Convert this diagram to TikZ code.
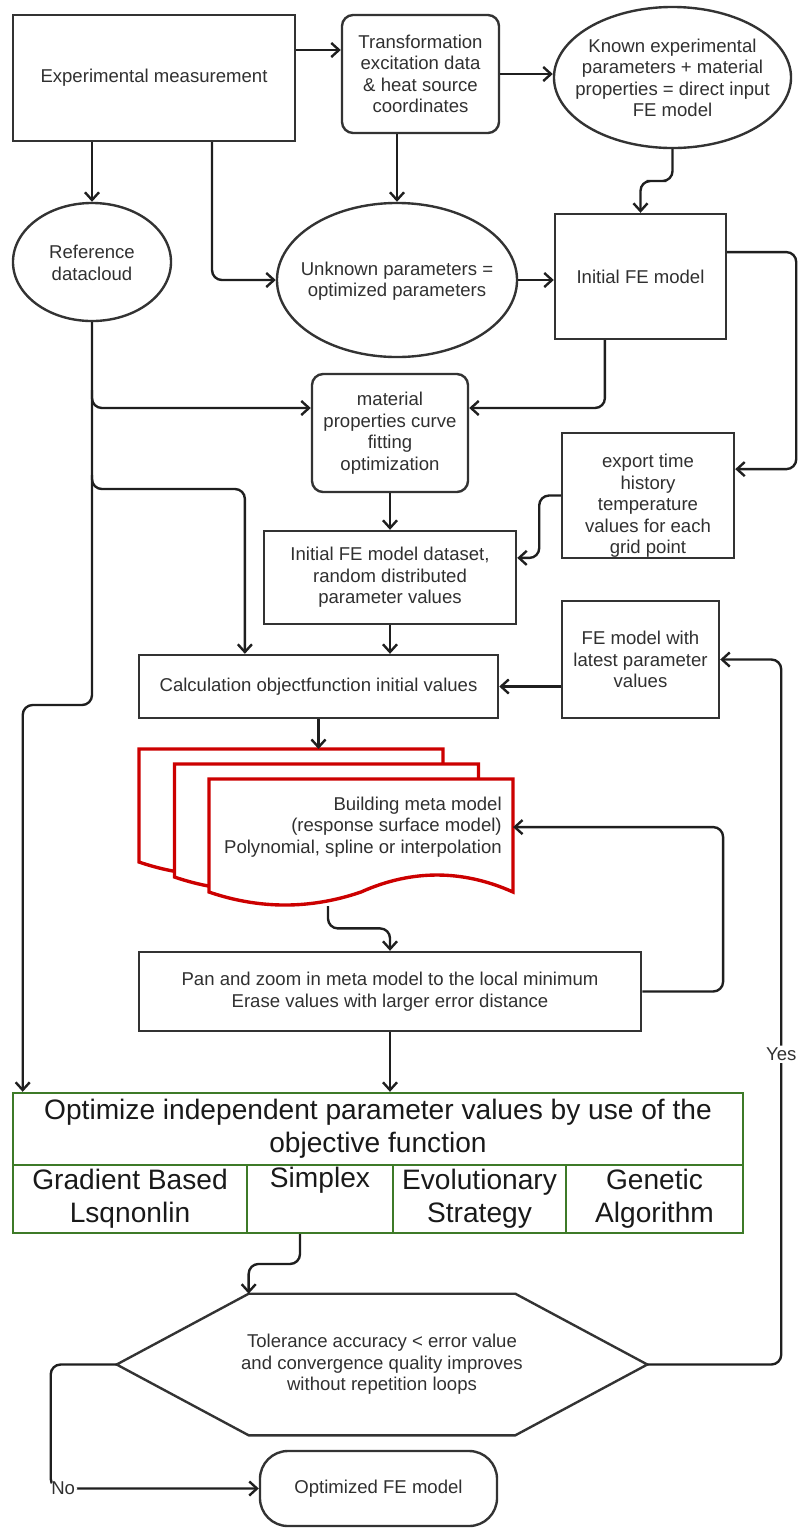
\documentclass[tikz,border=0pt]{standalone}
\usepackage{fontspec}
\setmainfont{Liberation Sans}
\usepackage{tikz}
\usetikzlibrary{arrows.meta, positioning, shapes.geometric, calc}

\definecolor{boxgray}{HTML}{333333}
\definecolor{txtgray}{HTML}{303030}
\definecolor{metared}{HTML}{CC0000}
\definecolor{optgreen}{HTML}{3D7A28}

\begin{document}
\begin{tikzpicture}[x=0.025cm, y=-0.025cm,
    every node/.style={font=\fontsize{13.2}{15.3}\selectfont, text=txtgray, align=center},
    box/.style={draw=boxgray, line width=1.7pt, fill=white, inner sep=2pt},
    rbox/.style={box, rounded corners=0.28cm},
    oval/.style={draw=boxgray, line width=1.7pt, ellipse, inner sep=0pt},
    pagebox/.style={inner sep=0pt, outer sep=0pt, minimum width=7.6cm, minimum height=2.825cm},
    metadoc/.style={draw=metared, line width=2.4pt, fill=white},
    optcell/.style={draw=optgreen, line width=1.7pt, inner sep=0pt, font=\fontsize{20}{23.4}\selectfont, text=black!90},
    arr/.style={-{Straight Barb[length=5.5pt,width=10pt]}, line width=1.7pt, draw=black!88, rounded corners=7pt},
    flag/.style={fill=white, inner sep=1.5pt}
]
\useasboundingbox (0,0) rectangle (799,1528);

% Measurement and inputs
\node[box, minimum width=7.05cm, minimum height=3.15cm] (exp) at (154,78) {Experimental measurement};
\node[rbox, minimum width=3.925cm, minimum height=2.95cm] (trans) at (420.5,74) {Transformation\\excitation data\\\& heat source\\coordinates};
\node[oval, minimum width=5.925cm, minimum height=3.525cm] (known) at (672.5,77.5) {};
\node (knownlbl) at (672.5,78) {Known experimental\\parameters + material\\properties = direct input\\FE model};
\node[oval, minimum width=3.95cm, minimum height=2.95cm] (ref) at (92,262) {};
\node (reflbl) at (92,263) {Reference\\datacloud};
\node[oval, minimum width=6cm, minimum height=3.85cm] (unk) at (397,280) {};
\node (unklbl) at (397,281) {Unknown parameters =\\optimized parameters};
\node[box, minimum width=4.275cm, minimum height=3.125cm] (init) at (640.5,276.5) {Initial FE model};

% FE model preparation
\node[rbox, minimum width=3.9cm, minimum height=2.95cm] (mat) at (390,433) {material\\properties curve\\fitting\\optimization};
\node[box, minimum width=4.3cm, minimum height=3.125cm] (export) at (648,495.5) {};
\node (exportlbl) at (648,506) {export time\\history\\temperature\\values for each\\grid point};
\node[box, minimum width=6.3cm, minimum height=2.325cm] (dataset) at (390,577.5) {Initial FE model dataset,\\random distributed\\parameter values};
\node[box, minimum width=8.975cm, minimum height=1.575cm] (calc) at (318.5,686.5) {Calculation objectfunction initial values};
\node[box, minimum width=3.925cm, minimum height=2.925cm] (latest) at (640.5,659.5) {FE model with\\latest parameter\\values};

% Meta model stack
\foreach \pg/\cx/\cy in {pageA/291/805.5, pageB/326.5/820.5, pageC/361/835.5} {
  \node[pagebox] (\pg) at (\cx,\cy) {};
  \draw[metadoc] (\pg.north west) -- (\pg.north east) -- (\pg.south east)
    .. controls +(-50.67,-22.67) and +(50.67,-22.67) .. (\pg.south)
    .. controls +(-50.67,17.33) and +(50.67,17.33) .. (\pg.south west) -- cycle;
}
\node[anchor=east, align=right, inner sep=0pt] (metatxt) at (502,827) {Building meta model\\(response surface model)\\Polynomial, spline or interpolation};
\node[box, minimum width=12.55cm, minimum height=1.975cm] (pan) at (390,991.5) {Pan and zoom in meta model to the local minimum\\Erase values with larger error distance};

% Optimizer table
\node[optcell, minimum width=18.25cm, minimum height=1.8cm] (opt) at (378,1129) {Optimize independent parameter values by use of the\\objective function};
\node[optcell, minimum width=5.85cm, minimum height=1.7cm] (grad) at (130,1199) {Gradient Based\\Lsqnonlin};
\node[optcell, minimum width=3.65cm, minimum height=1.7cm] (simplex) at (320,1199) {Simplex\\\strut};
\node[optcell, minimum width=4.325cm, minimum height=1.7cm] (evol) at (479.5,1199) {Evolutionary\\Strategy};
\node[optcell, minimum width=4.425cm, minimum height=1.7cm] (genetic) at (654.5,1199) {Genetic\\Algorithm};

% Decision and end
\node[inner sep=0pt, minimum width=13.25cm, minimum height=3.525cm] (decision) at (382,1364.5) {Tolerance accuracy < error value\\and convergence quality improves\\without repetition loops};
\coordinate (decin) at ([xshift=3.3cm]decision.north west);
\draw[draw=boxgray, line width=1.7pt] (decision.west) -- (decin) -- ([xshift=-3.3cm]decision.north east) -- (decision.east)
  -- ([xshift=-3.3cm]decision.south east) -- ([xshift=3.3cm]decision.south west) -- cycle;
\node[box, rounded corners=0.7cm, minimum width=5.925cm, minimum height=1.875cm] (final) at (378.5,1488.5) {Optimized FE model};

% Connections
\draw[arr] (exp.east |- 0,50) -- (trans.west |- 0,50);
\draw[arr] (trans.east) -- (known.west |- trans.east);
\draw[arr] (ref.north |- exp.south) -- (ref.north);
\draw[arr] ([xshift=1.45cm]exp.south) |- (unk.west);
\draw[arr] (unk.north |- trans.south) -- (unk.north);
\draw[arr] (known.south) |- ($(known.south)!0.5!(init.north)$) -| (init.north);
\draw[arr] (unk.east) -- (init.west |- unk.east);
\draw[arr] ([xshift=-8.9mm]init.south) |- ([yshift=6.25mm]mat.east);
\draw[arr] ([yshift=6.1mm]init.east) -| ([xshift=1.525cm,yshift=6.6mm]export.east) -- ([yshift=6.6mm]export.east);
\draw[arr] (export.west) -| ([xshift=5.5mm,yshift=4.9mm]dataset.east) -- ([yshift=4.9mm]dataset.east);
\draw[arr] (mat.south) -- (dataset.north);
\draw[arr] (dataset.south) -- (dataset.south |- calc.north);
\draw[arr] (latest.west |- calc.east) -- (calc.east);
\draw[arr] (calc.south) -- (calc.south |- pageA.north);

% Reference data feeds
\coordinate (calcin) at ([xshift=-1.84cm]calc.north);
\draw[arr] (ref.south) -- (ref.south |- 0,705) -| ([xshift=2.75mm]opt.north west);
\draw[arr] (ref.south |- 0,390) |- ([yshift=6.25mm]mat.west);
\draw[arr] (ref.south |- 0,475) |- (calcin |- 0,489) -- (calcin);

% Meta model loop
\coordinate (metaout) at ([xshift=-8.25mm,yshift=-3.5mm]pageC.south);
\draw[arr] (metaout) |- ($(metaout)!0.5!(pan.north)$) -| (pan.north);
\draw[arr] (pan.east) -| ([xshift=5.25cm,yshift=2.1mm]pageC.east) -- ([yshift=2.1mm]pageC.east);
\draw[arr] (pan.south) -- (pan.south |- opt.north);

% Decision outcomes
\coordinate (simout) at ([xshift=-5mm]simplex.south);
\draw[arr] (simout) |- ($(simout)!0.5!(decin)$) -| (decin);
\draw[arr] (decision.east) -| node[flag, pos=0.72] (yeslbl) {Yes} ([xshift=1.525cm]latest.east) -- (latest.east);
\draw[arr] (decision.west) -| ([xshift=-5.2cm]final.west) -- node[flag, pos=0.06] (nolbl) {No} (final.west);

\end{tikzpicture}
\end{document}
